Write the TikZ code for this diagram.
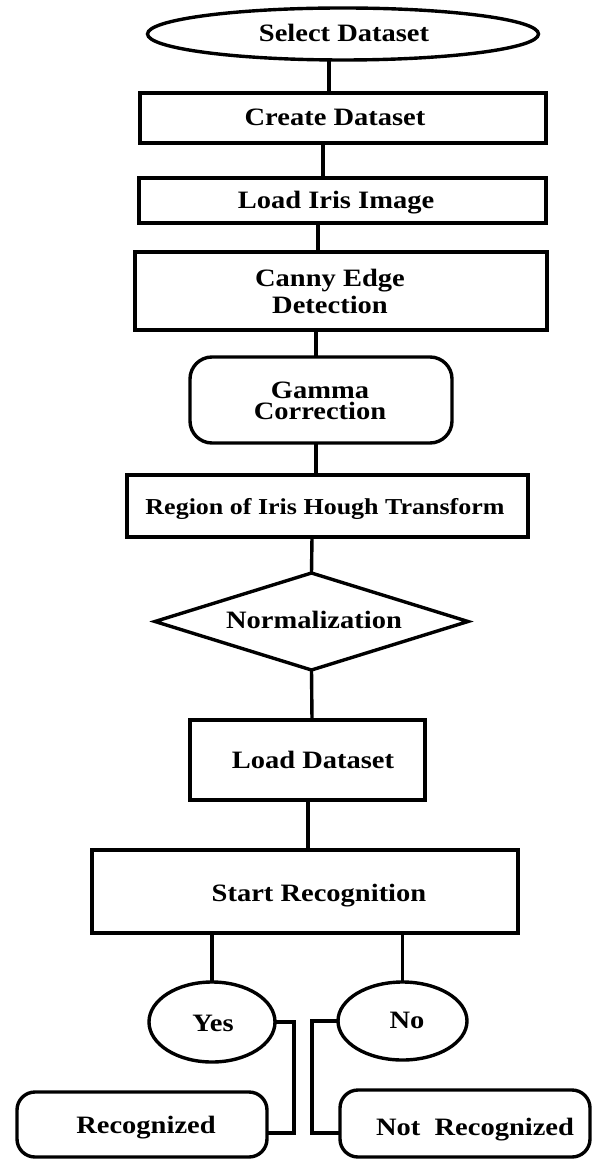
\documentclass[tikz,border=0pt]{standalone}
\usepackage{fontspec}
\setmainfont{Liberation Serif}[FakeStretch=1.14]
\usetikzlibrary{shapes.geometric}
\begin{document}
\begin{tikzpicture}[x=0.5pt,y=-0.5pt,line width=1.7pt,
  shp/.style={draw,inner sep=0pt,outer sep=0pt},
  boxnode/.style={shp,rectangle},
  ovalnode/.style={shp,ellipse},
  roundnode/.style={shp,rectangle,rounded corners=9pt},
  diamnode/.style={shp,diamond},
  txt/.style={font=\bfseries\fontsize{12.5}{13.5}\selectfont,inner sep=0pt,text height=8.3pt,text depth=0pt},
  txttwo/.style={font=\bfseries\fontsize{12.5}{13.5}\selectfont,inner sep=0pt,align=center},
  link/.style={draw,line width=1.7pt}]
\useasboundingbox (0,0) rectangle (593,1159);

% shapes
\node[ovalnode,minimum width=195.5pt,minimum height=26pt] (sel) at (343,34) {};
\node[boxnode,minimum width=203pt,minimum height=25pt] (create) at (343,118) {};
\node[boxnode,minimum width=203.5pt,minimum height=22.5pt] (iris) at (342.5,200.5) {};
\node[boxnode,minimum width=206pt,minimum height=39pt] (canny) at (341,291) {};
\node[roundnode,minimum width=131pt,minimum height=43pt,rounded corners=11pt] (gamma) at (321,400) {};
\node[boxnode,minimum width=200.5pt,minimum height=31pt] (region) at (327.5,506) {};
\node[diamnode,minimum width=156.5pt,minimum height=48.5pt] (norm) at (311.5,621.5) {};
\node[boxnode,minimum width=117.5pt,minimum height=40pt] (loadds) at (307.5,760) {};
\node[boxnode,minimum width=213pt,minimum height=41.5pt] (start) at (305,891.5) {};
\node[ovalnode,minimum width=63pt,minimum height=40pt] (yes) at (212,1022) {};
\node[ovalnode,minimum width=64.5pt,minimum height=39pt] (no) at (402.5,1021) {};
\node[roundnode,minimum width=125pt,minimum height=32.5pt] (rec) at (142,1124.5) {};
\node[roundnode,minimum width=125pt,minimum height=33.5pt] (nrec) at (465,1123.5) {};

% texts
\node[txt] (sel-t) at (344,33) {Select Dataset};
\node[txt] (create-t) at (335,117) {Create Dataset};
\node[txt] (iris-t) at (336,200) {Load Iris Image};
\node[txttwo] (canny-t) at (330,291.5) {Canny Edge\\Detection};
\node[txttwo,font=\bfseries\fontsize{12.5}{10.5}\selectfont] (gamma-t) at (320,401) {Gamma\\Correction};
\node[txt,font=\bfseries\fontsize{11.4}{12}\selectfont,text height=7.5pt] (region-t) at (325,507) {Region of Iris Hough Transform};
\node[txt] (norm-t) at (314,620) {Normalization};
\node[txt] (loadds-t) at (313,760) {Load Dataset};
\node[txt] (start-t) at (319,893) {Start Recognition};
\node[txt] (yes-t) at (213,1023) {Yes};
\node[txt] (no-t) at (407,1020) {No};
\node[txt] (rec-t) at (146,1125) {Recognized};
\node[txt] (nrec-t) at (475,1127) {Not\ \ Recognized};

% connector columns
\coordinate (c1) at (329,0);
\coordinate (c2) at (323,0);
\coordinate (c3) at (318,0);
\coordinate (c4) at (316,0);
\coordinate (c5) at (312,0);
\coordinate (c6) at (308,0);
\coordinate (ya) at (294,1133);
\coordinate (na) at (312,1133);

\draw[link] (sel.south -| c1) -- (create.north -| c1);
\draw[link] (create.south -| c2) -- (iris.north -| c2);
\draw[link] (iris.south -| c3) -- (canny.north -| c3);
\draw[link] (canny.south -| c4) -- (gamma.north -| c4);
\draw[link] (gamma.south -| c4) -- (region.north -| c4);
\draw[link] (region.south -| c5) -- (norm.north);
\draw[link] (norm.south) -- (loadds.north -| c5);
\draw[link] (loadds.south -| c6) -- (start.north -| c6);
\draw[link] (start.south -| yes.north) -- (yes.north);
\draw[link] (start.south -| no.north) -- (no.north);
\draw[link] (yes.east) -| (ya) -- (ya -| rec.east);
\draw[link] (no.west) -| (na) -- (na -| nrec.west);
\end{tikzpicture}
\end{document}
